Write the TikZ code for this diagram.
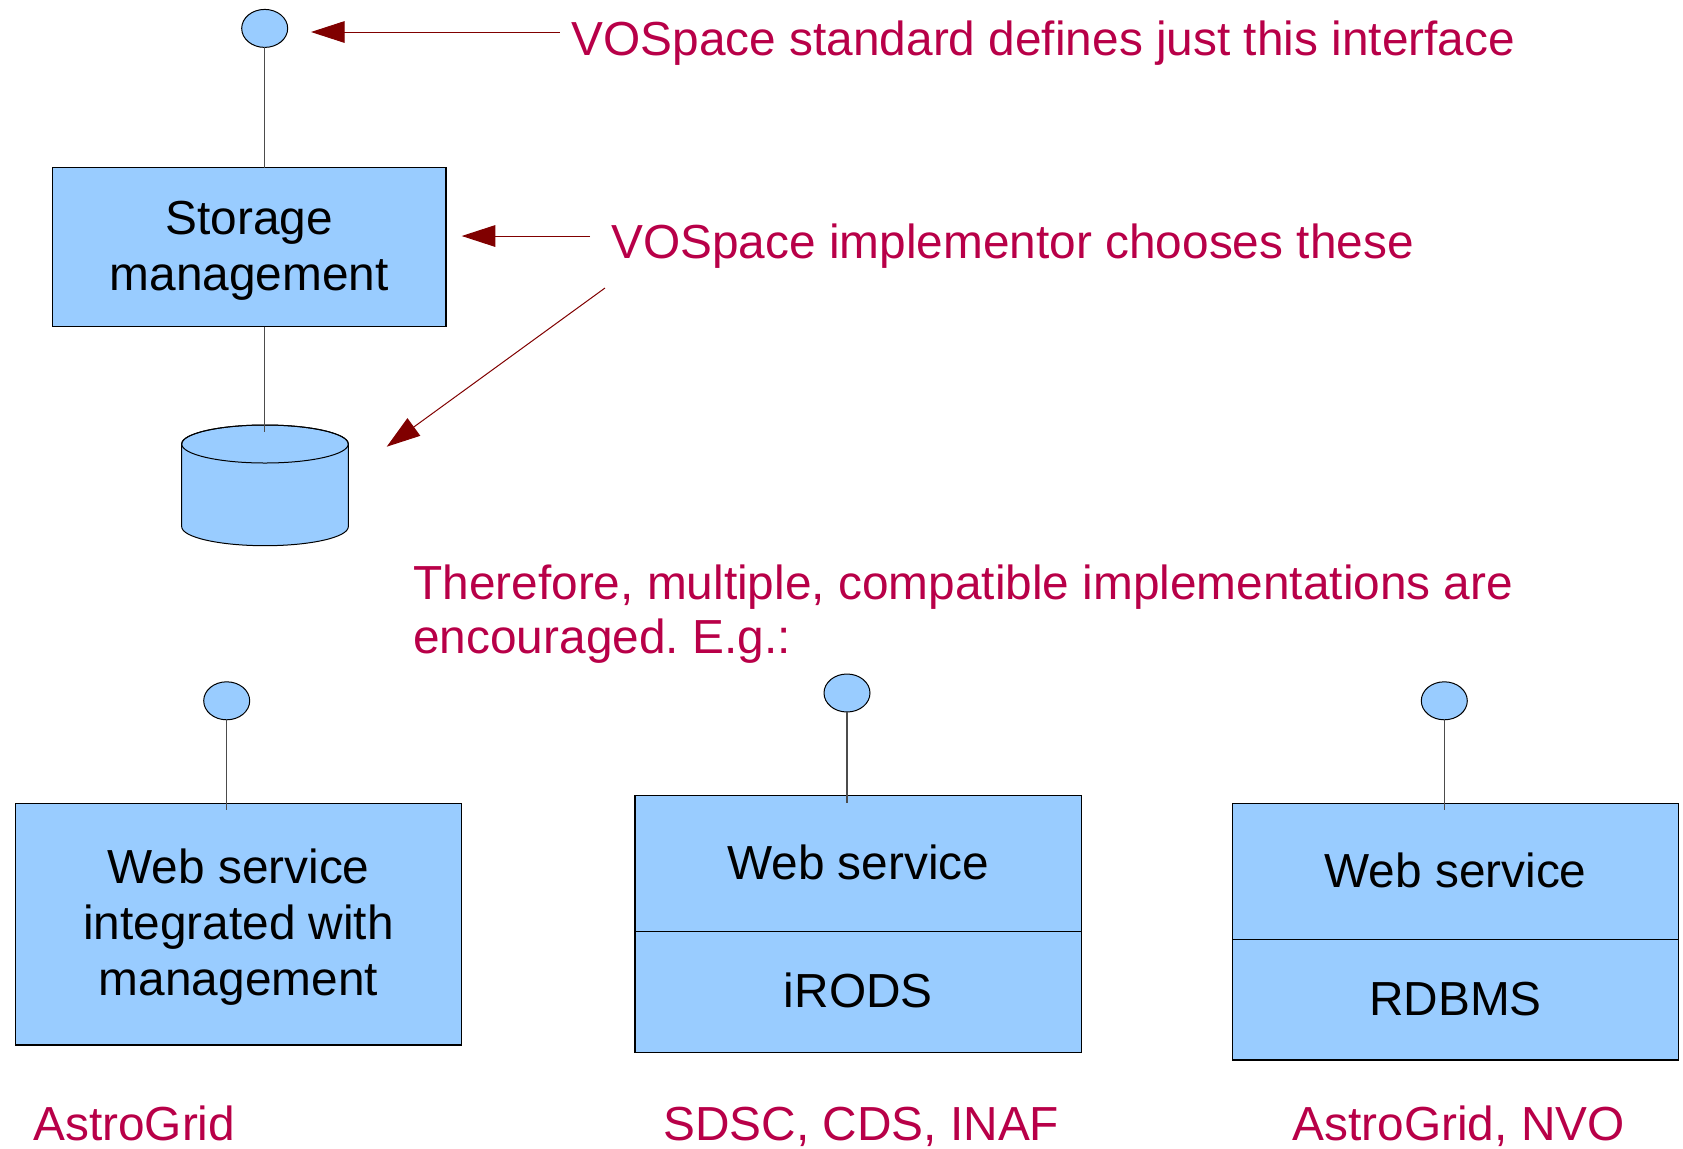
\documentclass[tikz,border=0pt]{standalone}
\usepackage{fontspec}
\setmainfont{Liberation Sans}
\frenchspacing
\usetikzlibrary{arrows.meta,shapes.geometric}
\definecolor{boxblue}{HTML}{99CCFF}
\definecolor{notered}{RGB}{184,0,72}
\definecolor{arrowred}{HTML}{800000}
\begin{document}
\begin{tikzpicture}[x=0.5pt,y=-0.5pt,
  every node/.style={inner sep=0pt, outer sep=0pt},
  boxnode/.style={draw=black, line width=0.6pt, fill=boxblue, rectangle},
  port/.style={draw=black, line width=0.5pt, fill=boxblue, ellipse, minimum width=23pt, minimum height=19pt},
  conn/.style={draw=black!70, line width=0.55pt},
  redarrow/.style={draw=arrowred, line width=0.5pt, -{Triangle[length=16.8pt,width=10.8pt]}},
  txt/.style={font=\fontsize{23.9pt}{28pt}\selectfont\frenchspacing, align=center, anchor=base},
  note/.style={font=\fontsize{23.9pt}{26.7pt}\selectfont\frenchspacing, text=notered, align=left, anchor=base west}
]
\useasboundingbox (0,0) rectangle (1683,1148);

% top part (multi-line nodes: base anchor = last line baseline)
\node[port] (e0) at (264.7,28.4) {};
\node[boxnode, minimum width=196.65pt, minimum height=79.5pt] (storage) at (249.35,247.2) {};
\node[txt] (storagetxt) at (249.35,290) {Storage\\management};

% cylinder
\filldraw[fill=boxblue, draw=black, line width=0.5pt]
  (181.7,444) -- (181.7,526.7) arc[start angle=180, end angle=360, x radius=41.65pt, y radius=9.5pt]
  -- (348.3,444) arc[start angle=0, end angle=180, x radius=41.65pt, y radius=9.5pt] -- cycle;
\draw[black, line width=0.5pt] (265,444) ellipse[x radius=41.65pt, y radius=9.5pt];
\coordinate (cyltop) at (264.7,432.3);

% notes and arrows
\node[note] (n1) at (571.7,55) {VOSpace standard defines just this interface};
\node[note] (n2) at (611.4,258.3) {VOSpace implementor chooses these};
\node[note] (n3) at (413.3,653.3) {Therefore, multiple, compatible implementations are\\encouraged. E.g.:};

\coordinate (a1s) at (559.5,32);  \coordinate (a1e) at (311,32);
\coordinate (a2s) at (590,236);   \coordinate (a2e) at (461.7,236);
\coordinate (a3s) at (605,288);   \coordinate (a3e) at (386.7,446.7);
\draw[redarrow] (a1s) -- (a1e);
\draw[redarrow] (a2s) -- (a2e);
\draw[redarrow] (a3s) -- (a3e);

% bottom implementations
\node[port] (e1) at (226.7,700.8) {};
\node[port] (e2) at (847,693) {};
\node[port] (e3) at (1444.3,700.8) {};

\node[boxnode, minimum width=223.2pt, minimum height=120.85pt] (w1) at (238.5,924.15) {};
\node[txt] (w1txt) at (238.5,995) {Web service\\integrated with\\management};

\node[boxnode, minimum width=223.35pt, minimum height=128.7pt] (w2) at (858.35,924) {};
\draw[black, line width=0.6pt] ([yshift=-68.2pt]w2.north west) -- ([yshift=-68.2pt]w2.north east);
\node[txt] (w2a) at (858.35,879.3) {Web service};
\node[txt] (w2b) at (858.35,1007.7) {iRODS};

\node[boxnode, minimum width=223.2pt, minimum height=128.35pt] (w3) at (1455.5,931.65) {};
\draw[black, line width=0.6pt] ([yshift=-68pt]w3.north west) -- ([yshift=-68pt]w3.north east);
\node[txt] (w3a) at (1455.5,887.3) {Web service};
\node[txt] (w3b) at (1455.5,1015.7) {RDBMS};

\node[note] (l1) at (33.3,1140) {AstroGrid};
\node[note] (l2) at (663.5,1140) {SDSC, CDS, INAF};
\node[note] (l3) at (1292.7,1140) {AstroGrid, NVO};

% connectors
\coordinate (w1in) at (226.7,810);
\coordinate (w2in) at (847,802.7);
\coordinate (w3in) at (1444.3,810);
\draw[conn] (e0.south) -- (e0.south |- storage.north);
\draw[conn] (e0.south |- storage.south) -- (cyltop);
\draw[conn] (e1.south) -- (w1in);
\draw[conn] (e2.south) -- (w2in);
\draw[conn] (e3.south) -- (w3in);
\end{tikzpicture}
\end{document}
